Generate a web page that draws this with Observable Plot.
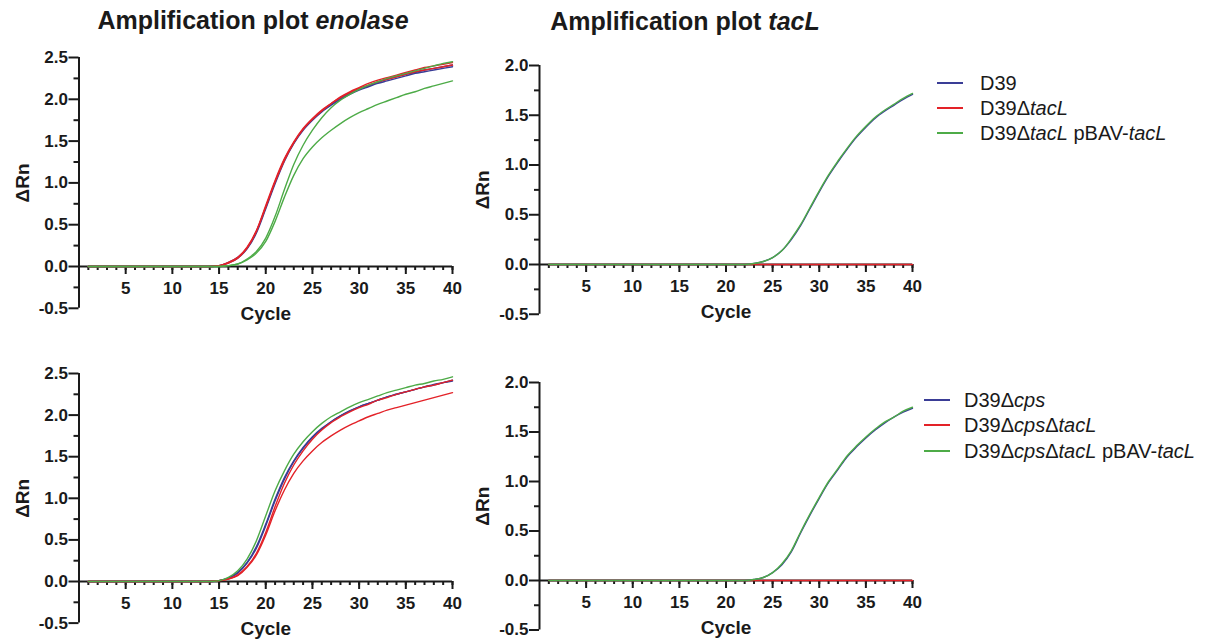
<!DOCTYPE html>
<html>
<head>
<meta charset="utf-8">
<script src="https://cdn.jsdelivr.net/npm/d3@7"></script>
<script src="https://cdn.jsdelivr.net/npm/@observablehq/plot@0.6"></script>
<style>
  html, body { margin: 0; padding: 0; background: #fff; }
  #chart { position: relative; width: 1215px; height: 641px; overflow: hidden;
           font-family: "Liberation Sans", Arial, Helvetica, sans-serif; color: #1a1a1a; }
  .panel { position: absolute; }
  .panel svg { overflow: visible; }
  .title { position: absolute; font-weight: bold; font-size: 25px; line-height: 1;
           white-space: nowrap; transform: translate(-50%, -50%); }
  .legend-row { position: absolute; display: flex; align-items: center; line-height: 1;
                font-size: 20px; white-space: nowrap; transform: translateY(-50%); }
  .swatch { display: inline-block; height: 2px; }
</style>
</head>
<body>
<div id="chart"></div>
<script>
// PCR cycle numbers
const cycles = [1,2,3,4,5,6,7,8,9,10,11,12,13,14,15,16,17,18,19,20,
                21,22,23,24,25,26,27,28,29,30,31,32,33,34,35,36,37,38,39,40];
const xMajor = [5, 10, 15, 20, 25, 30, 35, 40];

// Axis ticks
const enoTicks = [-0.5, 0, 0.5, 1, 1.5, 2, 2.5];
const enoMinor = [-0.25, 0.25, 0.75, 1.25, 1.75, 2.25];
const tacTicks = [-0.5, 0, 0.5, 1, 1.5, 2];
const tacMinor = [-0.25, 0.25, 0.75, 1.25, 1.75];

// Strain names (legend text) and colours
const strainsWT  = ["D39", "D39Δ<i>tacL</i>", "D39Δ<i>tacL</i> pBAV-<i>tacL</i>"];
const strainsCps = ["D39Δ<i>cps</i>", "D39Δ<i>cps</i>Δ<i>tacL</i>", "D39Δ<i>cps</i>Δ<i>tacL</i> pBAV-<i>tacL</i>"];
const palette = ["#3a3d96", "#e32228", "#4dab47"];

// ΔRn per cycle, enolase, D39 background (duplicate wells)
const enoD39a   = [0,0,0,0,0,0,0,0,0,0,0,0,0,0,0.01,0.04,0.10,0.21,0.40,0.69,0.99,1.26,1.47,1.63,1.75,1.85,1.93,2.00,2.06,2.11,2.15,2.19,2.22,2.25,2.28,2.31,2.33,2.35,2.37,2.39];
const enoD39b   = [0,0,0,0,0,0,0,0,0,0,0,0,0,0,0.01,0.05,0.11,0.22,0.42,0.71,1.01,1.28,1.48,1.64,1.76,1.86,1.94,2.01,2.07,2.12,2.16,2.20,2.24,2.27,2.30,2.32,2.35,2.37,2.39,2.41];
const enoTacLa  = [0,0,0,0,0,0,0,0,0,0,0,0,0,0,0.01,0.05,0.11,0.23,0.43,0.73,1.03,1.29,1.49,1.65,1.77,1.87,1.95,2.03,2.09,2.14,2.19,2.23,2.26,2.29,2.32,2.35,2.38,2.40,2.42,2.44];
const enoTacLb  = [0,0,0,0,0,0,0,0,0,0,0,0,0,0,0.01,0.04,0.10,0.22,0.42,0.71,1.01,1.27,1.48,1.64,1.76,1.86,1.95,2.02,2.08,2.13,2.17,2.21,2.24,2.27,2.30,2.33,2.35,2.37,2.39,2.41];
const enoCompA  = [0,0,0,0,0,0,0,0,0,0,0,0,0,0,0,0.01,0.03,0.09,0.18,0.34,0.60,0.92,1.22,1.45,1.63,1.78,1.90,1.99,2.06,2.12,2.17,2.21,2.25,2.28,2.31,2.34,2.37,2.40,2.43,2.45];
const enoCompB  = [0,0,0,0,0,0,0,0,0,0,0,0,0,0,0,0.01,0.03,0.08,0.16,0.30,0.54,0.83,1.09,1.29,1.43,1.54,1.63,1.71,1.78,1.84,1.89,1.94,1.98,2.02,2.06,2.09,2.13,2.16,2.19,2.22];

// ΔRn per cycle, enolase, D39Δcps background
const enoCpsA     = [0,0,0,0,0,0,0,0,0,0,0,0,0,0,0.01,0.04,0.10,0.22,0.40,0.67,0.97,1.23,1.44,1.60,1.73,1.83,1.92,1.99,2.05,2.10,2.14,2.18,2.22,2.25,2.28,2.31,2.34,2.37,2.39,2.42];
const enoCpsB     = [0,0,0,0,0,0,0,0,0,0,0,0,0,0,0.01,0.04,0.11,0.23,0.42,0.69,0.99,1.25,1.45,1.61,1.74,1.84,1.92,1.99,2.05,2.10,2.14,2.18,2.22,2.25,2.28,2.31,2.34,2.36,2.39,2.41];
const enoCpsTacLa = [0,0,0,0,0,0,0,0,0,0,0,0,0,0,0.01,0.03,0.08,0.18,0.34,0.59,0.90,1.18,1.40,1.57,1.71,1.82,1.91,1.98,2.04,2.09,2.13,2.18,2.21,2.25,2.28,2.31,2.34,2.36,2.39,2.42];
const enoCpsTacLb = [0,0,0,0,0,0,0,0,0,0,0,0,0,0,0.01,0.03,0.07,0.17,0.32,0.56,0.85,1.10,1.30,1.45,1.57,1.67,1.75,1.82,1.88,1.93,1.98,2.02,2.06,2.09,2.12,2.15,2.18,2.21,2.24,2.27];
const enoCpsComp  = [0,0,0,0,0,0,0,0,0,0,0,0,0,0,0.01,0.05,0.13,0.27,0.49,0.79,1.09,1.33,1.53,1.68,1.80,1.90,1.98,2.04,2.10,2.15,2.19,2.23,2.27,2.30,2.33,2.36,2.38,2.41,2.43,2.46];

// ΔRn per cycle, tacL, D39 background
const tacD39    = [0,0,0,0,0,0,0,0,0,0,0,0,0,0,0,0,0,0,0,0,0,0.00,0.01,0.03,0.07,0.14,0.25,0.39,0.56,0.73,0.89,1.03,1.16,1.28,1.38,1.47,1.54,1.60,1.66,1.71];
const tacTacL   = [0,0,0,0,0,0,0,0,0,0,0,0,0,0,0,0,0,0,0,0,0,0,0,0,0,0,0,0,0,0,0,0,0,0,0,0,0,0,0,0];
const tacComp   = [0,0,0,0,0,0,0,0,0,0,0,0,0,0,0,0,0,0,0,0,0,0.00,0.01,0.03,0.07,0.14,0.26,0.40,0.57,0.74,0.90,1.04,1.17,1.29,1.39,1.48,1.55,1.61,1.67,1.72];

// ΔRn per cycle, tacL, D39Δcps background
const tacCps     = [0,0,0,0,0,0,0,0,0,0,0,0,0,0,0,0,0,0,0,0,0,0.00,0.01,0.03,0.08,0.16,0.29,0.48,0.66,0.83,0.99,1.12,1.25,1.35,1.44,1.52,1.59,1.65,1.70,1.74];
const tacCpsTacL = [0,0,0,0,0,0,0,0,0,0,0,0,0,0,0,0,0,0,0,0,0,0,0,0,0,0,0,0,0,0,0,0,0,0,0,0,0,0,0,0];
const tacCpsComp = [0,0,0,0,0,0,0,0,0,0,0,0,0,0,0,0,0,0,0,0,0,0.00,0.01,0.03,0.08,0.17,0.30,0.49,0.67,0.84,1.00,1.13,1.26,1.36,1.45,1.53,1.60,1.65,1.71,1.75];

const ink = "#1a1a1a";
const font = '"Liberation Sans", Arial, Helvetica, sans-serif';
const fmt = d => d.toFixed(1);

// wells: [strain index, values]; drawn in this order (blue, red, green)
function toRows(wells) {
  return wells.flatMap(([s, values], w) =>
    values.map((v, i) => ({cycle: cycles[i], value: v, strain: s, well: w})));
}

function panel({wells, ticks, minor, box, m}) {
  const yMax = ticks[ticks.length - 1];
  const yMin = ticks[0];
  return Plot.plot({
    width: box.w, height: box.h,
    marginTop: m[0], marginRight: m[1], marginBottom: m[2], marginLeft: m[3],
    x: {domain: [0, 40], axis: null},
    y: {domain: [0, yMax], axis: null},
    color: {domain: [0, 1, 2], range: palette, type: "ordinal"},
    style: {fontFamily: font, fontSize: "17px", fontWeight: "bold", color: ink, background: "transparent", overflow: "visible"},
    marks: [
      Plot.ruleX([0], {y1: yMin, y2: yMax, stroke: ink, strokeWidth: 2}),
      Plot.ruleY([0], {x1: 0, x2: 40, stroke: ink, strokeWidth: 2}),
      Plot.axisX(cycles, {tickSize: 4, strokeWidth: 2, stroke: ink, tickFormat: () => "", label: null}),
      Plot.axisX(xMajor, {tickSize: 8, tickPadding: 7, strokeWidth: 2, stroke: ink, fill: ink,
                          label: null, fontSize: 17, fontWeight: "bold"}),
      Plot.axisY(minor, {tickSize: 5, strokeWidth: 2, stroke: ink, tickFormat: () => "", label: null}),
      Plot.axisY(ticks, {tickSize: 10, tickPadding: 1, strokeWidth: 2, stroke: ink, fill: ink,
                         tickFormat: fmt, label: null, fontSize: 17, fontWeight: "bold"}),
      Plot.line(toRows(wells), {x: "cycle", y: "value", z: "well", stroke: "strain",
                                strokeWidth: 1.4, curve: "monotone-x"}),
      Plot.text([{x: 20, y: 0, t: "Cycle"}], {x: "x", y: "y", text: "t", dy: 47,
                 fontSize: 19, fontWeight: "bold", fill: ink}),
      Plot.text([{x: 0, y: (yMin + yMax) / 2, t: "ΔRn"}], {x: "x", y: "y", text: "t",
                 dx: -56.5, rotate: -90, fontSize: 19, fontWeight: "bold", fill: ink})
    ]
  });
}

const chart = document.getElementById("chart");

function place(node, left, top) {
  const div = document.createElement("div");
  div.className = "panel";
  div.style.left = left + "px";
  div.style.top = top + "px";
  div.appendChild(node);
  chart.appendChild(div);
}

place(panel({
  wells: [[0, enoD39a], [0, enoD39b], [1, enoTacLa], [1, enoTacLb], [2, enoCompB], [2, enoCompA]],
  ticks: enoTicks, minor: enoMinor, box: {w: 460, h: 330}, m: [57, 8, 64, 78.5]
}), 0, 0);

place(panel({
  wells: [[0, tacD39], [1, tacTacL], [2, tacComp]],
  ticks: tacTicks, minor: tacMinor, box: {w: 460, h: 330}, m: [65, 8, 66, 79]
}), 460, 0);

place(panel({
  wells: [[0, enoCpsA], [0, enoCpsB], [1, enoCpsTacLb], [1, enoCpsTacLa], [2, enoCpsComp]],
  ticks: enoTicks, minor: enoMinor, box: {w: 460, h: 311}, m: [43, 8, 60, 78.5]
}), 0, 330);

place(panel({
  wells: [[0, tacCps], [1, tacCpsTacL], [2, tacCpsComp]],
  ticks: tacTicks, minor: tacMinor, box: {w: 460, h: 311}, m: [52, 8, 61, 79]
}), 460, 330);

// Panel titles
function title(html, cx, cy) {
  const d = document.createElement("div");
  d.className = "title";
  d.innerHTML = html;
  d.style.left = cx + "px";
  d.style.top = cy + "px";
  chart.appendChild(d);
}
title("Amplification plot <i>enolase</i>", 253, 20);
title("Amplification plot <i>tacL</i>", 685, 20.5);

// Legends
function legend(labels, x, rowsY, swatchW, gap) {
  labels.forEach((label, i) => {
    const row = document.createElement("div");
    row.className = "legend-row";
    row.style.left = x + "px";
    row.style.top = rowsY[i] + "px";
    const sw = document.createElement("span");
    sw.className = "swatch";
    sw.style.width = swatchW + "px";
    sw.style.background = palette[i];
    sw.style.marginRight = gap + "px";
    const tx = document.createElement("span");
    tx.innerHTML = label;
    row.appendChild(sw);
    row.appendChild(tx);
    chart.appendChild(row);
  });
}
legend(strainsWT, 937, [83, 108, 133], 26, 17);
legend(strainsCps, 924, [400, 425, 451], 26, 14);
</script>
</body>
</html>
